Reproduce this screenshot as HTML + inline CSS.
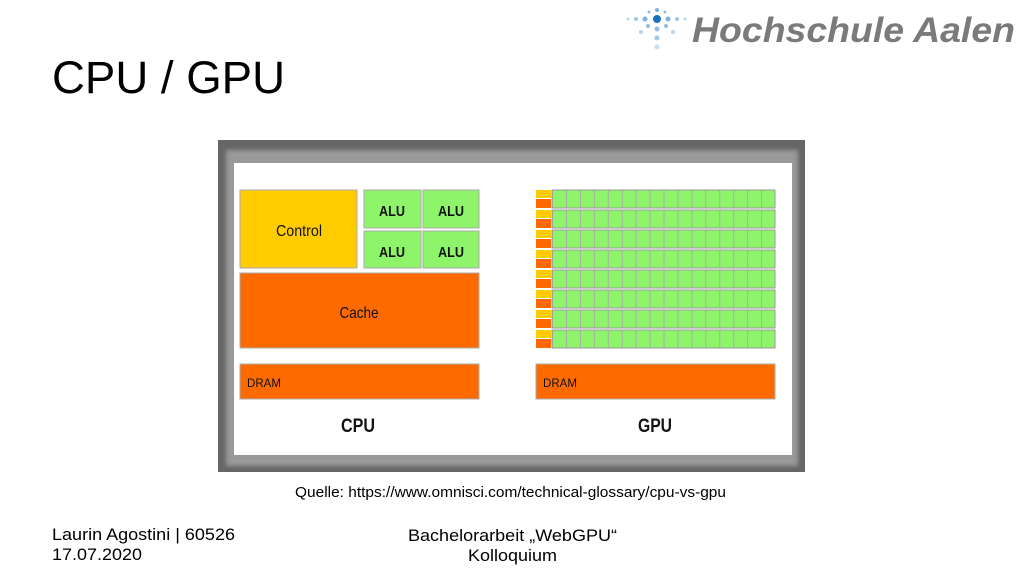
<!DOCTYPE html>
<html><head><style>body{margin:0;background:#fff}svg{display:block}</style></head><body>
<svg width="1024" height="576" xmlns="http://www.w3.org/2000/svg" font-family="Liberation Sans, sans-serif">
<defs>
<filter id="b"><feGaussianBlur stdDeviation="2"/></filter>
<pattern id="cells" x="552" y="0" width="13.94" height="20" patternUnits="userSpaceOnUse">
<rect width="13.94" height="20" fill="#8ef56a"/><line x1="0.5" y1="0" x2="0.5" y2="20" stroke="#aaa"/>
</pattern>
</defs>
<rect width="1024" height="576" fill="#fff"/>
<g fill="#4a90d0">
<circle cx="657" cy="19" r="4" fill="#1a6fc0"/>
<circle cx="645" cy="19" r="2.5" opacity=".7"/><circle cx="636" cy="19" r="2" opacity=".5"/><circle cx="628" cy="19" r="1.5" opacity=".4"/>
<circle cx="668" cy="19" r="2.5" opacity=".7"/><circle cx="677" cy="19" r="2" opacity=".5"/><circle cx="685" cy="19" r="1.5" opacity=".4"/>
<circle cx="657" cy="10" r="2" opacity=".7"/><circle cx="657" cy="29" r="2.5" opacity=".6"/><circle cx="657" cy="38" r="2.5" opacity=".5"/><circle cx="657" cy="47" r="2.5" opacity=".3"/>
<circle cx="648" cy="26" r="2" opacity=".6"/><circle cx="641" cy="32" r="2" opacity=".4"/><circle cx="666" cy="26" r="2" opacity=".6"/><circle cx="673" cy="32" r="2" opacity=".4"/>
<circle cx="649" cy="12" r="1.5" opacity=".6"/><circle cx="665" cy="12" r="1.5" opacity=".6"/>
</g>
<text x="692" y="42" font-size="35" font-weight="bold" font-style="italic" fill="#7a7a7a" textLength="323" lengthAdjust="spacingAndGlyphs">Hochschule Aalen</text>
<text x="52" y="93" font-size="45" fill="#000" textLength="233" lengthAdjust="spacingAndGlyphs">CPU / GPU</text>
<rect x="218" y="140" width="587" height="332" fill="#666"/>
<rect x="226" y="150" width="572" height="316" fill="#999" filter="url(#b)"/>
<rect x="234" y="163" width="558" height="292" fill="#fff"/>
<g stroke="#aaa" stroke-width="1">
<rect x="240" y="190" width="117" height="78" fill="#ffcc00"/>
<rect x="364" y="190" width="57" height="38" fill="#8ef56a"/>
<rect x="423" y="190" width="56" height="38" fill="#8ef56a"/>
<rect x="364" y="231" width="57" height="37" fill="#8ef56a"/>
<rect x="423" y="231" width="56" height="37" fill="#8ef56a"/>
<rect x="240" y="273" width="239" height="75" fill="#ff6a00"/>
<rect x="240" y="364" width="239" height="35" fill="#ff6a00"/>
<rect x="536" y="364" width="239" height="35" fill="#ff6a00"/>
</g>
<g font-weight="bold" fill="#111" text-anchor="middle" font-size="15">
<text x="299" y="236" font-weight="normal" font-size="16" textLength="46" lengthAdjust="spacingAndGlyphs">Control</text>
<text x="392" y="216" textLength="26" lengthAdjust="spacingAndGlyphs">ALU</text><text x="451" y="216" textLength="26" lengthAdjust="spacingAndGlyphs">ALU</text>
<text x="392" y="257" textLength="26" lengthAdjust="spacingAndGlyphs">ALU</text><text x="451" y="257" textLength="26" lengthAdjust="spacingAndGlyphs">ALU</text>
<text x="359" y="318" font-weight="normal" font-size="16" textLength="39" lengthAdjust="spacingAndGlyphs">Cache</text>
<text x="358" y="432" font-size="19" textLength="34" lengthAdjust="spacingAndGlyphs">CPU</text>
<text x="655" y="432" font-size="19" textLength="34" lengthAdjust="spacingAndGlyphs">GPU</text>
</g>
<g font-size="12" fill="#111"><text x="247" y="387" textLength="34" lengthAdjust="spacingAndGlyphs">DRAM</text><text x="543" y="387" textLength="34" lengthAdjust="spacingAndGlyphs">DRAM</text></g>
<g stroke="#999">
<rect x="552" y="190" width="223" height="18" fill="url(#cells)"/>
<rect x="552" y="210" width="223" height="18" fill="url(#cells)"/>
<rect x="552" y="230" width="223" height="18" fill="url(#cells)"/>
<rect x="552" y="250" width="223" height="18" fill="url(#cells)"/>
<rect x="552" y="270" width="223" height="18" fill="url(#cells)"/>
<rect x="552" y="290" width="223" height="18" fill="url(#cells)"/>
<rect x="552" y="310" width="223" height="18" fill="url(#cells)"/>
<rect x="552" y="330" width="223" height="18" fill="url(#cells)"/>
</g>
<g>
<rect x="536" y="190" width="15" height="8" fill="#ffcc00"/><rect x="536" y="199" width="15" height="9" fill="#ff6a00"/>
<rect x="536" y="210" width="15" height="8" fill="#ffcc00"/><rect x="536" y="219" width="15" height="9" fill="#ff6a00"/>
<rect x="536" y="230" width="15" height="8" fill="#ffcc00"/><rect x="536" y="239" width="15" height="9" fill="#ff6a00"/>
<rect x="536" y="250" width="15" height="8" fill="#ffcc00"/><rect x="536" y="259" width="15" height="9" fill="#ff6a00"/>
<rect x="536" y="270" width="15" height="8" fill="#ffcc00"/><rect x="536" y="279" width="15" height="9" fill="#ff6a00"/>
<rect x="536" y="290" width="15" height="8" fill="#ffcc00"/><rect x="536" y="299" width="15" height="9" fill="#ff6a00"/>
<rect x="536" y="310" width="15" height="8" fill="#ffcc00"/><rect x="536" y="319" width="15" height="9" fill="#ff6a00"/>
<rect x="536" y="330" width="15" height="8" fill="#ffcc00"/><rect x="536" y="339" width="15" height="9" fill="#ff6a00"/>
</g>
<text x="295" y="497" font-size="15" fill="#000" textLength="431" lengthAdjust="spacingAndGlyphs">Quelle: https://www.omnisci.com/technical-glossary/cpu-vs-gpu</text>
<g font-size="17" fill="#000">
<text x="52" y="540" textLength="183" lengthAdjust="spacingAndGlyphs">Laurin Agostini | 60526</text>
<text x="52" y="560" textLength="90" lengthAdjust="spacingAndGlyphs">17.07.2020</text>
<text x="408" y="541" textLength="209" lengthAdjust="spacingAndGlyphs">Bachelorarbeit „WebGPU“</text>
<text x="468" y="561" textLength="89" lengthAdjust="spacingAndGlyphs">Kolloquium</text>
</g>
</svg>
</body></html>
